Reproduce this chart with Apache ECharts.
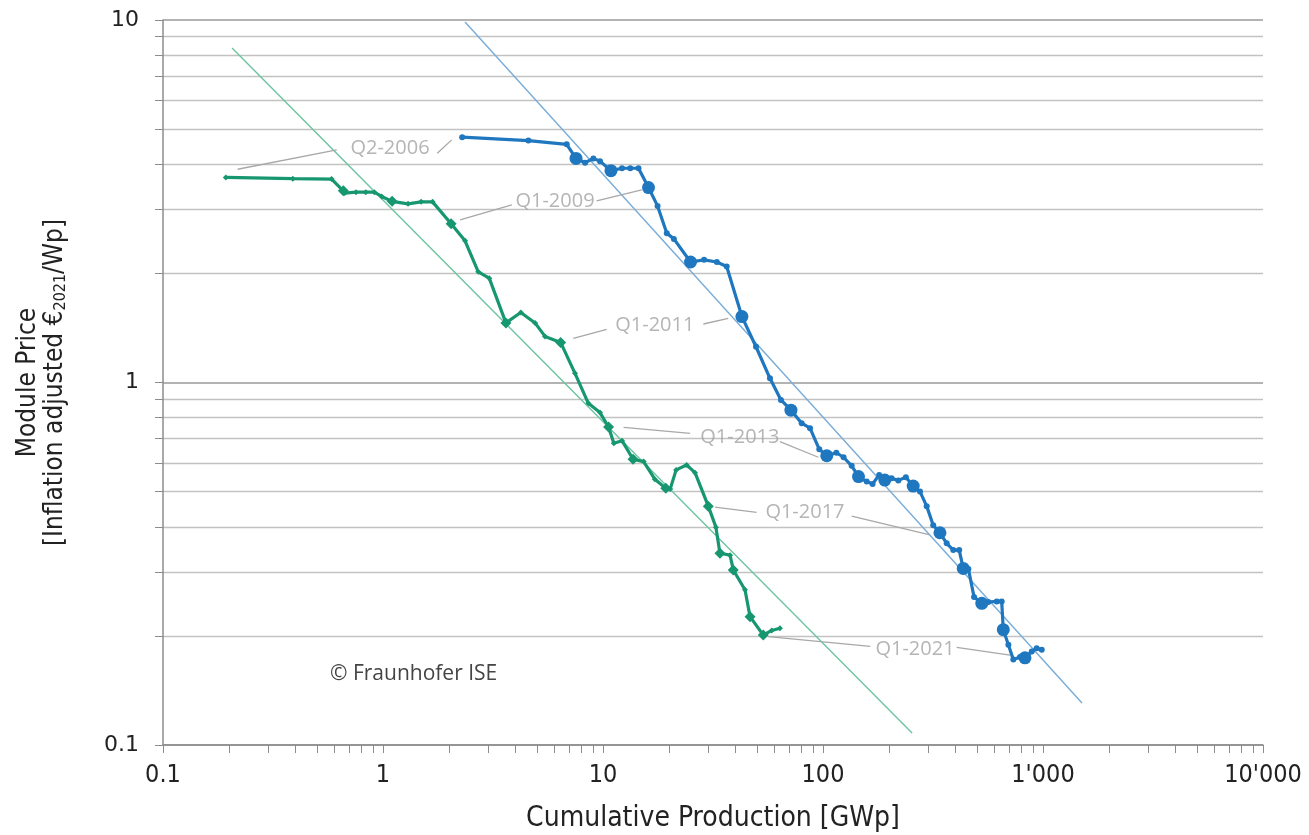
<!DOCTYPE html>
<html><head><meta charset="utf-8">
<script src="https://cdn.jsdelivr.net/npm/echarts@6/dist/echarts.min.js"></script>
<style>html,body{margin:0;padding:0;background:#fff}#c{width:1309px;height:835px}</style>
</head><body><div id="c"></div>
<script>
// Cumulative production [GWp] and module price [EUR2021/Wp]
const greenX = [0.193,0.389,0.584,0.660,0.670,0.754,0.835,0.913,0.986,1.10,1.30,1.49,1.68,2.04,2.36,2.71,3.04,3.62,4.23,4.91,5.45,6.42,7.46,8.58,9.69,10.6,11.2,12.2,13.7,15.3,17.2,19.3,20.2,21.5,24.0,26.2,30.1,32.6,34.0,37.8,39.1,44.2,46.6,53.5,58.5,63.7];
const greenY = [3.68,3.65,3.64,3.38,3.33,3.35,3.35,3.35,3.26,3.16,3.11,3.15,3.15,2.74,2.46,2.02,1.94,1.46,1.56,1.46,1.34,1.29,1.06,0.876,0.826,0.754,0.680,0.691,0.614,0.605,0.541,0.511,0.508,0.574,0.592,0.564,0.456,0.399,0.338,0.334,0.304,0.268,0.226,0.201,0.207,0.210];
const greenBig = [3,9,13,17,21,25,28,31,36,38,40,42,43];

const blueX = [2.29,4.58,6.84,7.54,8.29,9.04,9.69,10.87,12.2,13.3,14.5,16.1,17.7,19.5,21.0,25.0,28.8,32.9,36.5,42.8,49.6,57.4,64.4,71.5,80.0,87.3,96.2,104,115,124,135,145,158,168,180,191,205,220,238,257,276,296,317,340,365,391,416,434,458,486,527,564,616,649,660,696,733,786,828,889,936,987];
const blueY = [4.75,4.65,4.54,4.15,4.04,4.15,4.08,3.84,3.90,3.90,3.90,3.45,3.07,2.58,2.49,2.15,2.18,2.15,2.09,1.52,1.255,1.027,0.895,0.839,0.772,0.748,0.654,0.628,0.640,0.622,0.589,0.550,0.533,0.525,0.556,0.538,0.544,0.537,0.548,0.518,0.500,0.456,0.404,0.385,0.360,0.345,0.345,0.307,0.306,0.256,0.246,0.248,0.249,0.249,0.208,0.189,0.172,0.175,0.174,0.181,0.185,0.183];
const blueBig = [3,7,11,15,19,23,27,31,35,39,43,47,50,54,58];

// learning-curve trend lines (start, end)
const greenTrendX = [0.206, 254];
const greenTrendY = [8.37, 0.108];
const blueTrendX = [2.36, 1504];
const blueTrendY = [9.87, 0.1306];

// annotation labels and their leader lines (data units)
const annLabels = ['Q2-2006','Q1-2009','Q1-2011','Q1-2013','Q1-2017','Q1-2021'];
const annTextX = [1.076, 6.05, 17.2, 41.9, 82.8, 262];
const annTextY = [4.44, 3.17, 1.44, 0.707, 0.439, 0.184];
const annLeaders = [
  [[0.2185,3.875],[0.616,4.38]], [[1.765,4.29],[2.052,4.67]],
  [[2.24,2.81],[3.85,3.09]], [[9.36,3.17],[15.0,3.40]],
  [[7.33,1.324],[10.4,1.402]], [[28.6,1.45],[37.1,1.503]],
  [[12.4,0.752],[24.9,0.724]], [[63.7,0.687],[95.2,0.622]],
  [[32.3,0.453],[49.9,0.438]], [[135,0.428],[306,0.380]],
  [[56.4,0.199],[164,0.187]], [[405,0.186],[708,0.177]]
];

const xMin = 0.1, xMax = 10000, yMin = 0.1, yMax = 10;
const xAxisTitle = 'Cumulative Production [GWp]';
const copyright = '© Fraunhofer ISE';

const GREEN = '#17976f', BLUE = '#1f77bf';
const NARROW = "'Liberation Sans Narrow', 'DejaVu Sans Condensed', 'Open Sans'";
const zip = (xs, ys) => xs.map((x, i) => [x, ys[i]]);
const gSet = new Set(greenBig), bSet = new Set(blueBig);
const fmtX = v => {
  if (v >= 1000) return String(Math.round(v)).replace(/\B(?=(\d{3})+(?!\d))/g, "'");
  return String(+v.toPrecision(3));
};

const chart = echarts.init(document.getElementById('c'), null, {renderer: 'canvas'});
chart.setOption({
  animation: false,
  backgroundColor: '#fff',
  grid: {left: 163, right: 46, top: 20, bottom: 90, containLabel: false, outerBoundsMode: 'none'},
  xAxis: {
    type: 'log', logBase: 10, min: xMin, max: xMax,
    name: xAxisTitle, nameLocation: 'middle', nameGap: 60,
    nameTextStyle: {fontFamily: NARROW, fontSize: 28, color: '#222'},
    axisLine: {show: true, lineStyle: {color: '#8c8c8c', width: 1.5}},
    axisTick: {show: true, length: 8, lineStyle: {color: '#8c8c8c'}},
    minorTick: {show: true, splitNumber: 9, length: 8, lineStyle: {color: '#8c8c8c'}},
    splitLine: {show: false},
    axisLabel: {fontFamily: NARROW, fontSize: 25, color: '#222', margin: 18, formatter: fmtX}
  },
  yAxis: {
    type: 'log', logBase: 10, min: yMin, max: yMax,
    name: '{a|Module Price}\n{a|[Inflation adjusted €}{s|2021}{a|/Wp]}',
    nameLocation: 'middle', nameGap: 94, nameRotate: 90,
    nameTextStyle: {
      fontFamily: NARROW, fontSize: 26, color: '#222', align: 'center',
      rich: {
        a: {fontFamily: NARROW, fontSize: 26, color: '#222', lineHeight: 27},
        s: {fontFamily: NARROW, fontSize: 16, color: '#222', lineHeight: 14, verticalAlign: 'bottom'}
      }
    },
    axisLine: {show: true, lineStyle: {color: '#8c8c8c', width: 1.5}},
    axisTick: {show: true, length: 8, lineStyle: {color: '#8c8c8c'}},
    minorTick: {show: true, splitNumber: 9, length: 8, lineStyle: {color: '#8c8c8c'}},
    splitLine: {show: true, lineStyle: {color: '#9a9a9a', width: 1.5}},
    minorSplitLine: {show: true, lineStyle: {color: '#c2c2c2', width: 1.3}},
    axisLabel: {fontFamily: 'DejaVu Sans', fontSize: 22, color: '#222', margin: 24,
      formatter: v => String(+v.toPrecision(3))}
  },
  graphic: [{
    type: 'text', left: 330, top: 664,
    style: {text: copyright, fontFamily: 'Open Sans', fontSize: 21, fill: '#444'}
  }],
  series: [
    {type: 'line', data: zip(greenTrendX, greenTrendY), showSymbol: false, silent: true,
     lineStyle: {color: '#6cc4a0', width: 1.4}, z: 2},
    {type: 'line', data: zip(blueTrendX, blueTrendY), showSymbol: false, silent: true,
     lineStyle: {color: '#78acd8', width: 1.4}, z: 2},
    {type: 'lines', coordinateSystem: 'cartesian2d', silent: true, z: 3,
     data: annLeaders.map(c => ({coords: c})),
     lineStyle: {color: '#a8a8a8', width: 1.3, opacity: 1}},
    {type: 'line', data: zip(greenX, greenY), z: 5,
     symbol: 'diamond', showAllSymbol: true,
     symbolSize: (v, p) => gSet.has(p.dataIndex) ? 11 : 6,
     itemStyle: {color: GREEN}, lineStyle: {color: GREEN, width: 3.2}},
    {type: 'line', data: zip(blueX, blueY), z: 5,
     symbol: 'circle', showAllSymbol: true,
     symbolSize: (v, p) => bSet.has(p.dataIndex) ? 13 : 6,
     itemStyle: {color: BLUE}, lineStyle: {color: BLUE, width: 3.2}},
    {type: 'scatter', silent: true, z: 6,
     data: annLabels.map((t, i) => ({name: t, value: [annTextX[i], annTextY[i]]})),
     symbolSize: 2, itemStyle: {color: 'rgba(255,255,255,0)'},
     label: {show: true, position: 'inside', formatter: p => p.name,
       fontFamily: 'Open Sans', fontSize: 20, color: '#a3a3a3'}}
  ]
});
</script>
</body></html>
